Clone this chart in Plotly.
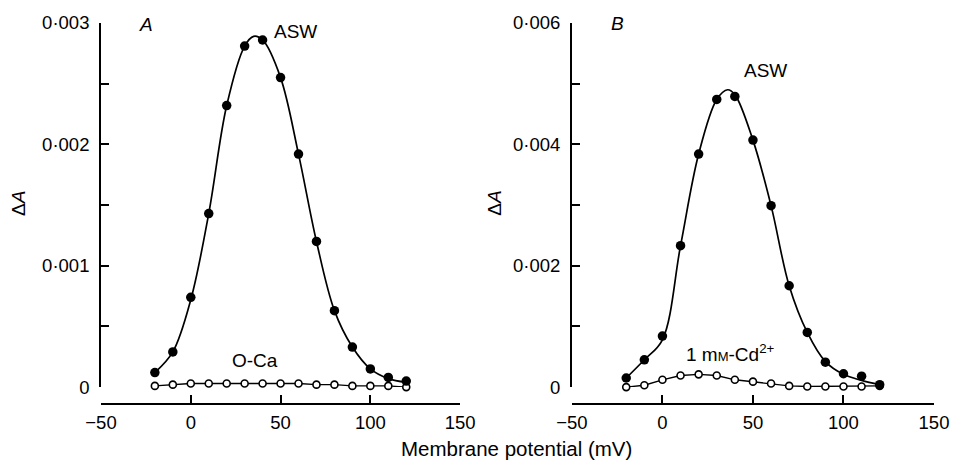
import plotly.graph_objects as go

# ---- data ----
voltage = [-20, -10, 0, 10, 20, 30, 40, 50, 60, 70, 80, 90, 100, 110, 120]

# Panel A
asw_a = [0.00012, 0.00029, 0.00074, 0.00143, 0.00232, 0.00281, 0.00286, 0.00255,
         0.00192, 0.00120, 0.00063, 0.00033, 0.00015, 0.00008, 0.00005]
oca_a = [0.00001, 0.00002, 0.00003, 0.00003, 0.00003, 0.00003, 0.00003, 0.00003,
         0.00003, 0.00002, 0.00002, 0.00001, 0.00001, 0.00001, 0.00000]
fit_x_a = [-20, -10, 0, 10, 20, 30, 35, 40, 50, 60, 70, 80, 90, 100, 110, 120]
fit_a = [0.00012, 0.00029, 0.00072, 0.00143, 0.00232, 0.00281, 0.00289, 0.00286,
         0.00255, 0.00192, 0.00120, 0.00063, 0.00033, 0.00015, 0.00007, 0.00004]

# Panel B
asw_b = [0.00015, 0.00045, 0.00084, 0.00233, 0.00384, 0.00474, 0.00479, 0.00407,
         0.00299, 0.00167, 0.00090, 0.00041, 0.00022, 0.00018, 0.00004]
cd_b = [0.00000, 0.00003, 0.00012, 0.00019, 0.00021, 0.00019, 0.00012, 0.00009,
        0.00006, 0.00002, 0.00001, 0.00001, 0.00001, 0.00001, 0.00002]
fit_x_b = [-20, -10, 0, 10, 20, 30, 36, 40, 50, 60, 70, 80, 90, 100, 110, 120]
fit_b = [0.00015, 0.00045, 0.00078, 0.00233, 0.00384, 0.00474, 0.00490, 0.00482,
         0.00407, 0.00299, 0.00167, 0.00090, 0.00042, 0.00021, 0.00011, 0.00004]

x_ticks = [-50, 0, 50, 100, 150]
x_ticktext = ["\u221250", "0", "50", "100", "150"]
ya_ticks = [0, 0.001, 0.002, 0.003]
ya_ticktext = ["0", "0\u00b7001", "0\u00b7002", "0\u00b7003"]
ya_minor = [0.0005, 0.0015, 0.0025]
yb_ticks = [0, 0.002, 0.004, 0.006]
yb_ticktext = ["0", "0\u00b7002", "0\u00b7004", "0\u00b7006"]
yb_minor = [0.001, 0.003, 0.005]

FONT = "Liberation Sans, Arial, sans-serif"
LW = 1.7

fig = go.Figure()


def add_panel(xa, ya, fx, fy, filled, opened):
    fig.add_trace(go.Scatter(x=fx, y=fy, mode="lines", line=dict(color="black", width=LW, shape="spline", smoothing=1.0),
                             xaxis=xa, yaxis=ya, hoverinfo="skip", cliponaxis=False))
    fig.add_trace(go.Scatter(x=voltage, y=opened, mode="lines+markers",
                             line=dict(color="black", width=1.4),
                             marker=dict(symbol="circle", size=7, color="white", line=dict(color="black", width=1.6)),
                             xaxis=xa, yaxis=ya, cliponaxis=False))
    fig.add_trace(go.Scatter(x=voltage, y=filled, mode="markers",
                             marker=dict(symbol="circle", size=9.5, color="black"),
                             xaxis=xa, yaxis=ya, cliponaxis=False))


add_panel("x", "y", fit_x_a, fit_a, asw_a, oca_a)
add_panel("x2", "y2", fit_x_b, fit_b, asw_b, cd_b)

ydom = [17 / 383, 1]
tickf = dict(family=FONT, size=18.5, color="black")
common_x = dict(range=[-50, 150], tickmode="array", tickvals=x_ticks, ticktext=x_ticktext,
                ticks="inside", ticklen=8, tickwidth=LW, tickcolor="black",
                showline=True, linecolor="black", linewidth=LW, showgrid=False, zeroline=False,
                anchor="free", position=0, tickfont=tickf, ticklabelstandoff=2)
common_y = dict(tickmode="array", ticks="inside", ticklen=8, tickwidth=LW, tickcolor="black",
                showline=True, linecolor="black", linewidth=LW, showgrid=False, zeroline=False,
                domain=ydom, tickfont=tickf, ticklabelstandoff=6)

fig.update_layout(
    width=961, height=462,
    margin=dict(l=101, r=18, t=21, b=58),
    paper_bgcolor="white", plot_bgcolor="white",
    showlegend=False,
    xaxis=dict(domain=[0, 363 / 842], **common_x),
    xaxis2=dict(domain=[476 / 842, 1], **common_x),
    yaxis=dict(range=[0, 0.003], tickvals=ya_ticks, ticktext=ya_ticktext, anchor="x",
               minor=dict(tickmode="array", tickvals=ya_minor, ticks="inside", ticklen=8, tickwidth=LW, tickcolor="black"),
               **common_y),
    yaxis2=dict(range=[0, 0.006], tickvals=yb_ticks, ticktext=yb_ticktext, anchor="x2",
                minor=dict(tickmode="array", tickvals=yb_minor, ticks="inside", ticklen=8, tickwidth=LW, tickcolor="black"),
                **common_y),
)

tf = dict(family=FONT, size=19, color="black")
ann = [
    dict(text="<i>A</i>", x=-24.7, y=0.00299, xref="x", yref="y"),
    dict(text="<i>B</i>", x=-25.0, y=0.00599, xref="x2", yref="y2"),
    dict(text="ASW", x=58.5, y=0.00293, xref="x", yref="y"),
    dict(text="O-Ca", x=36.0, y=0.00022, xref="x", yref="y"),
    dict(text="ASW", x=57.1, y=0.00521, xref="x2", yref="y2"),
    dict(text="1 m<span style='font-size:13px'>M</span>-Cd<sup>2+</sup>", x=37.4, y=0.00056, xref="x2", yref="y2"),
    dict(text="\u0394<i>A</i>", x=(17 - 101) / 842, y=(404 - 202) / 383, xref="paper", yref="paper", textangle=-90),
    dict(text="\u0394<i>A</i>", x=(498 - 101) / 842, y=(404 - 202) / 383, xref="paper", yref="paper", textangle=-90),
    dict(text="Membrane potential (mV)", x=(521 - 101) / 842, y=(404 - 449) / 383, xref="paper", yref="paper",
         font=dict(family=FONT, size=20.5, color="black")),
]
for a in ann:
    a.setdefault("font", tf)
    fig.add_annotation(showarrow=False, xanchor="center", yanchor="middle", **a)

fig.write_html("out.html")
